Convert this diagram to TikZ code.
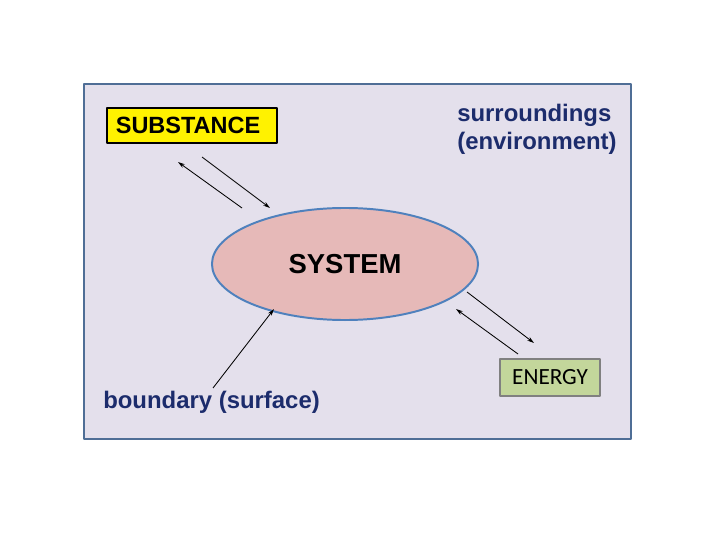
\documentclass[tikz,border=0pt]{standalone}
\usepackage{fontspec}
\setmainfont{Liberation Sans}
\newfontfamily\calfont{Carlito}
\usetikzlibrary{shapes.geometric,arrows.meta}
\definecolor{framefill}{HTML}{E4E0EC}
\definecolor{framedraw}{HTML}{4F6E96}
\definecolor{sysfill}{HTML}{E6B9B8}
\definecolor{sysdraw}{HTML}{4F81BD}
\definecolor{energyfill}{HTML}{C3D69B}
\definecolor{navytext}{HTML}{1C2C6C}
\tikzset{
  flow/.style={-{Stealth[length=5pt,width=3pt]},line width=0.6pt},
  bigtext/.style={font=\fontsize{17}{19.8}\selectfont\bfseries,text=navytext,inner sep=0pt}
}
\begin{document}
\begin{tikzpicture}[x=0.025cm,y=0.025cm,line join=round]
	\useasboundingbox (0,0) rectangle (720,540);
	% frame (surroundings)
	\draw[framedraw,fill=framefill,line width=1.6pt] (84,456) rectangle (631,101);
	% boxes
	\node[draw=black,fill=yellow,line width=1.2pt,anchor=west,minimum height=0.875cm,text width=3.8cm,inner xsep=0.225cm,align=left,font=\fontsize{16.7}{19.8}\selectfont\bfseries] (subst) at (106,414.5) {SUBSTANCE};
	\node[ellipse,draw=sysdraw,fill=sysfill,line width=1.4pt,minimum width=6.65cm,minimum height=2.8cm,font=\fontsize{19.5}{23}\selectfont\bfseries] (sys) at (345,276) {SYSTEM};
	\node[draw=gray,fill=energyfill,line width=0.8pt,minimum width=2.5cm,minimum height=0.925cm,font=\calfont\fontsize{16.5}{19.8}\selectfont] (energy) at (550,162.5) {ENERGY};
	% labels
	\node[bigtext,anchor=west,align=left] (surr) at (457,411) {surroundings\\(environment)};
	\node[bigtext,anchor=west] (bound) at (103,138) {boundary (surface)};
	% arrows
	\coordinate (s1) at (242,332); \coordinate (s2) at (178,378);
	\coordinate (s3) at (202,383); \coordinate (s4) at (270,332);
	\coordinate (e1) at (467,248); \coordinate (e2) at (534,197);
	\coordinate (e3) at (518,186); \coordinate (e4) at (456,231);
	\coordinate (b1) at (213,152); \coordinate (b2) at (274,231);
	\draw[flow] (s1)--(s2);
	\draw[flow] (s3)--(s4);
	\draw[flow] (e1)--(e2);
	\draw[flow] (e3)--(e4);
	\draw[flow] (b1)--(b2);
\end{tikzpicture}
\end{document}
